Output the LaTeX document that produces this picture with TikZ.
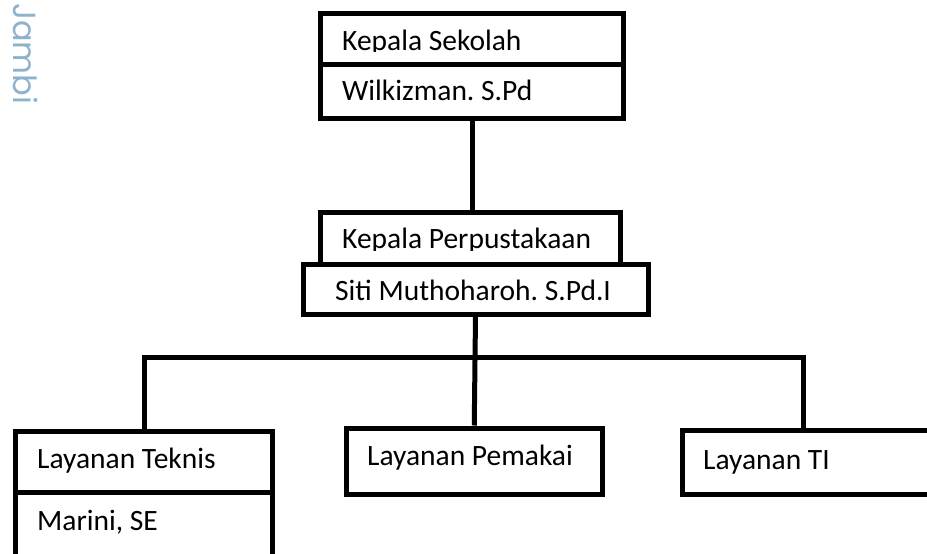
\documentclass[tikz,border=0pt]{standalone}
\usepackage{fontspec}
\setmainfont{Carlito}
\newfontfamily\wmfont{Poppins}
\frenchspacing

\definecolor{watermark}{RGB}{140,178,205}

\tikzset{
  kotak/.style={draw, line width=5pt, fill=white, inner sep=0pt, anchor=north west},
  garis/.style={line width=5pt},
  teks/.style={anchor=base west, inner sep=0pt, font=\fontsize{29.5}{35}\selectfont},
}

\begin{document}
\begin{tikzpicture}[x=1pt,y=-1pt]

% Frame of the page
\clip (0,0) rectangle (927,554);

% Watermark
\node[anchor=base west, inner sep=0pt, rotate=-90, text=watermark, font=\wmfont\fontsize{32}{38}\selectfont] (jambi) at (13,3) {Jambi};

% Kepala Sekolah
\node[kotak, minimum width=303pt, minimum height=51pt] (kepsek) at (318,11) {};
\node[kotak, minimum width=303pt, minimum height=53.5pt] (namakepsek) at (318,62) {};
\begin{scope}
  \clip (318,11) rectangle (621,51.5);
  \node[teks] (tkepsek) at (342,50) {Kepala Sekolah};
\end{scope}
\node[teks] (tnamakepsek) at (342,100) {Wilkizman. S.Pd};

% Kepala Perpustakaan
\node[kotak, minimum width=300pt, minimum height=52pt] (kapus) at (317.5,209.5) {};
\begin{scope}
  \clip (317.5,209.5) rectangle (617.5,250.5);
  \node[teks] (tkapus) at (342,248) {Kepala Perpustakaan};
\end{scope}
\node[kotak, minimum width=345pt, minimum height=50pt] (namakapus) at (300.5,261.5) {};
\node[teks] (tnamakapus) at (335,300) {Siti Muthoharoh. S.Pd.I};

% Layanan
\node[kotak, minimum width=257pt, minimum height=61.5pt] (teknis) at (12.5,428.5) {};
\node[kotak, minimum width=257pt, minimum height=85pt] (namateknis) at (12.5,490) {};
\node[kotak, minimum width=256.5pt, minimum height=66.5pt] (pemakai) at (343.5,425.5) {};
\node[kotak, minimum width=280.5pt, minimum height=64pt] (ti) at (679.5,428) {};
\node[teks] (tteknis) at (37,468) {Layanan Teknis};
\node[teks] (tnamateknis) at (37,530) {Marini, SE};
\node[teks] (tpemakai) at (367,465) {Layanan Pemakai};
\node[teks] (tti) at (703,469) {Layanan TI};

% Connectors
\coordinate (kiri) at (144.5,357.5);
\coordinate (kanan) at (803.5,357.5);
\draw[garis] (namakepsek.south) -- (namakepsek.south |- kapus.north);
\draw[garis] (namakapus.south) -- (pemakai.north);
\draw[garis] (teknis.north -| kiri) -- (kiri) -- (kanan) -- (ti.north -| kanan);

\end{tikzpicture}
\end{document}
